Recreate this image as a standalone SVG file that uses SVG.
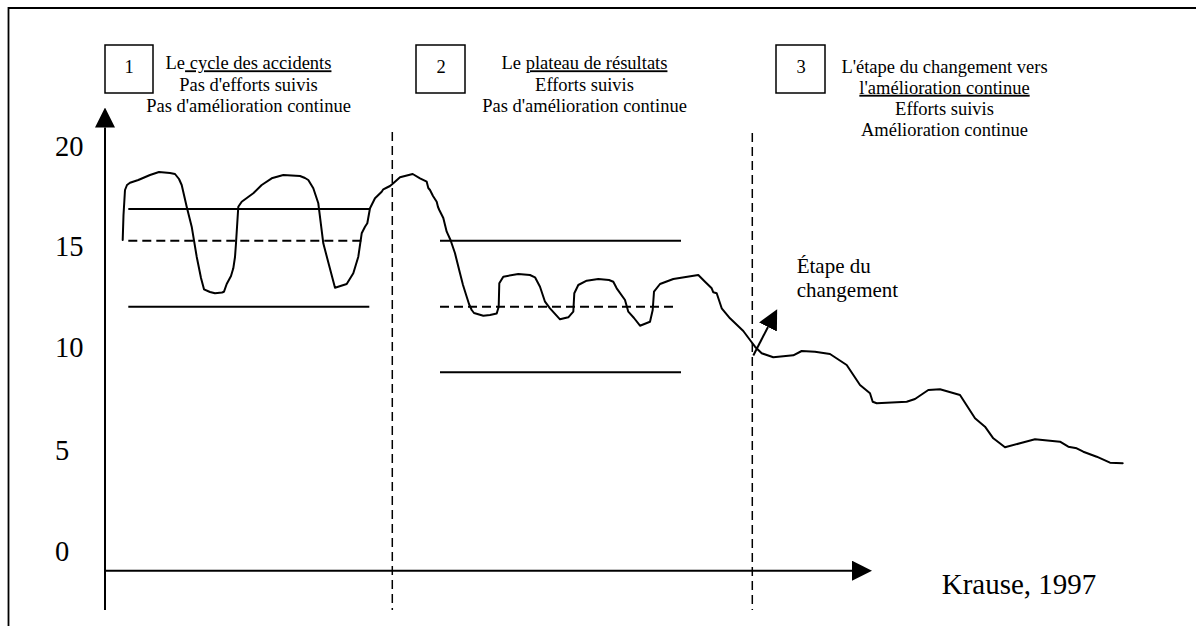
<svg xmlns="http://www.w3.org/2000/svg" width="1196" height="626" viewBox="0 0 1196 626" font-family="'Liberation Serif', 'Times New Roman', serif">
<style>
  .t { font-family: "Liberation Serif", "Times New Roman", serif; fill: #000; }
  .lbl { font-size: 18.5px; text-anchor: middle; }
  .num { font-size: 18.5px; text-anchor: middle; }
  .ax { font-size: 28.5px; }
  .ann { font-size: 21px; }
  .src { font-size: 29px; }
  .ul { text-decoration: underline; }
  .box { fill: #fff; stroke: #000; stroke-width: 1.5; }
  .solid { stroke: #000; stroke-width: 2; fill: none; }
  .hdash { stroke: #000; stroke-width: 2; stroke-dasharray: 9 5; fill: none; }
  .vdash { stroke: #000; stroke-width: 1.5; stroke-dasharray: 9 5; fill: none; }
  .curve { stroke: #000; stroke-width: 2; fill: none; stroke-linejoin: round; stroke-linecap: round; }
  .arrow { stroke: #000; stroke-width: 2; fill: none; marker-end: url(#head); }
</style>
<defs>
  <marker id="head" viewBox="0 0 20 20" refX="0" refY="10" markerWidth="20" markerHeight="20" markerUnits="userSpaceOnUse" orient="auto">
    <path d="M0,0 L20,10 L0,20 Z" fill="#000"/>
  </marker>
</defs>
<rect width="1196" height="626" fill="#fff"/>
<g id="frame">
  <path d="M8.5,626 L8.5,8 L1196,8" stroke="#000" stroke-width="1.8" fill="none"/>
</g>
<g id="stage1">
  <rect class="box" x="105" y="45" width="48" height="48"/>
  <text class="t num" x="129" y="73">1</text>
  <text class="t lbl" x="248.5" y="69.3">Le<tspan class="ul"> cycle des accidents</tspan></text>
  <text class="t lbl" x="248.5" y="90.5">Pas d'efforts suivis</text>
  <text class="t lbl" x="248.5" y="111.7">Pas d'amélioration continue</text>
</g>
<g id="stage2">
  <rect class="box" x="416" y="45" width="49" height="48"/>
  <text class="t num" x="441" y="73">2</text>
  <text class="t lbl" x="584.5" y="69.3">Le <tspan class="ul">plateau de résultats</tspan></text>
  <text class="t lbl" x="584.5" y="90.5">Efforts suivis</text>
  <text class="t lbl" x="584.5" y="111.7">Pas d'amélioration continue</text>
</g>
<g id="stage3">
  <rect class="box" x="776" y="45" width="49" height="48"/>
  <text class="t num" x="801" y="73">3</text>
  <text class="t lbl" x="944.5" y="72.5">L'étape du changement vers</text>
  <text class="t lbl" x="944.5" y="93.8"><tspan class="ul">l'amélioration continue</tspan></text>
  <text class="t lbl" x="944.5" y="115.1">Efforts suivis</text>
  <text class="t lbl" x="944.5" y="136.4">Amélioration continue</text>
</g>
<g id="y-labels">
  <text class="t ax" x="55" y="156">20</text>
  <text class="t ax" x="55" y="256">15</text>
  <text class="t ax" x="55" y="357">10</text>
  <text class="t ax" x="55" y="460">5</text>
  <text class="t ax" x="55" y="561">0</text>
</g>
<g id="separators">
  <line class="vdash" x1="392.3" y1="132" x2="392.3" y2="610"/>
  <line class="vdash" x1="752.3" y1="133" x2="752.3" y2="610"/>
</g>
<g id="bands">
  <line class="solid" x1="128.3" y1="209" x2="369.3" y2="209"/>
  <line class="hdash" x1="128.3" y1="240.7" x2="366" y2="240.7"/>
  <line class="solid" x1="128.3" y1="306.7" x2="369.3" y2="306.7"/>
  <line class="solid" x1="440" y1="240.7" x2="681" y2="240.7"/>
  <line class="hdash" x1="440" y1="306.7" x2="678" y2="306.7"/>
  <line class="solid" x1="440" y1="372.3" x2="681" y2="372.3"/>
</g>
<g id="curve">
  <path class="curve" d="M122.7,240 L123.5,215 L125,190 L127,185 L130,182.7 L138.3,180 L150,175 L159,172 L170,173 L175,174 L179,179 L181.7,185 L184,195 L186.7,206.7 L191.7,226.7 L196.7,256.7 L201,278 L204,289.3 L210,292 L215,293.3 L222,292.5 L224,291.7 L226.7,284 L231,276 L233.3,268.3 L235,257 L236,243.3 L238.3,206.7 L241.7,201.7 L253.3,193.3 L261.7,185 L271.7,178.3 L283.3,175 L300,176 L305,178 L308.3,180 L313.3,188.3 L318.3,203.3 L323.3,243.3 L329,265 L335,287.7 L346.7,284 L353.3,273.3 L358.3,256.7 L361.7,233.3 L365,226.7 L367.3,223.3 L370,208.3 L375,198.3 L381.7,191.7 L383.3,189.3 L387,187.5 L390,186 L393.3,183.3 L400,177.3 L412.7,174 L420,178.3 L426.7,181.7 L428.3,188 L430,190 L433,196 L436.7,201.7 L438,207 L439.3,210 L443.3,218 L446.7,231.7 L450.5,240 L455,253.3 L460,273.3 L463,285 L466.7,296.7 L469,304 L471.7,310 L474,313 L483.3,315.7 L490,315 L496.7,313.5 L498.7,306.7 L499.3,283.3 L503.3,276.7 L518.3,274 L530,275 L535,277.3 L540,286.7 L545,301.7 L550,308.3 L560,319.3 L568.3,317.3 L573.3,311.7 L574.3,293.3 L578.3,285 L586.7,280.7 L598.3,279 L609,280 L613.3,281.7 L616.7,288.3 L625,300 L628.3,311.7 L634,318 L640,325.7 L650,321.7 L652.7,310 L654,291.7 L660,284 L673.3,279 L698.3,275 L705,281.7 L711.7,288.3 L713.3,292.3 L716.7,293.3 L721.7,308.3 L730,318.3 L743.3,331 L750,340 L755,346.7 L761.7,353.3 L773.3,357.3 L793.3,355.3 L801.7,351 L815,351.7 L830,354 L846.7,365 L860,385 L870,393.3 L872.7,401.7 L876.7,403.3 L906.7,401.7 L915,399 L928.3,390 L940,389.3 L960,395 L975,418.3 L985,426.7 L993.3,438.3 L1005,447.3 L1020,443.3 L1035,439.3 L1060,441.7 L1068.3,446.7 L1076.7,448.3 L1083.3,451.7 L1096.7,456.7 L1110,462.7 L1122.7,463.3"/>
</g>
<g id="connectors">
  <line id="y-axis" class="arrow" x1="105" y1="610" x2="105" y2="127.5"/>
  <line id="x-axis" class="arrow" x1="105" y1="570.7" x2="852" y2="570.7"/>
  <line id="change-arrow" class="arrow" x1="753.3" y1="355.5" x2="768" y2="327"/>
</g>
<g id="change-label">
  <text class="t ann" x="796.7" y="272.7">Étape du</text>
  <text class="t ann" x="796.7" y="296.7">changement</text>
</g>
<g id="source">
  <text class="t src" x="941.7" y="594">Krause, 1997</text>
</g>
</svg>
